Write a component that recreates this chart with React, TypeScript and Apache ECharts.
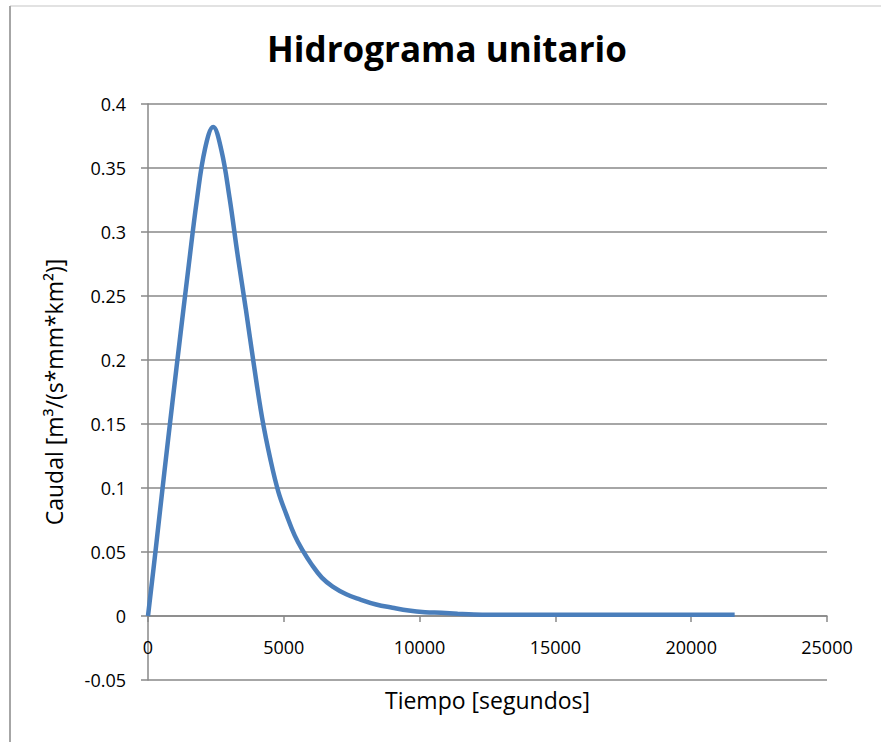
import React, { useEffect, useRef } from "react";
import * as echarts from "echarts";

const titleText = "Hidrograma unitario";
const xAxisName = "Tiempo [segundos]";
const yAxisName = "Caudal [m³/(s*mm*km²)]";

const timeSec = [
  0, 300, 600, 900, 1200, 1500, 1800, 2100, 2400, 2700, 3000, 3300, 3600, 3900,
  4200, 4500, 4800, 5100, 5400, 5700, 6000, 6400, 6800, 7300, 7800, 8400, 9000,
  9600, 10200, 10800, 11400, 12000, 12600, 13500, 15000, 16500, 18000, 19500,
  21000, 21600,
];
const flow = [
  0, 0.055, 0.112, 0.167, 0.221, 0.274, 0.325, 0.365, 0.382, 0.364, 0.327,
  0.282, 0.24, 0.196, 0.155, 0.123, 0.097, 0.079, 0.063, 0.051, 0.041, 0.03,
  0.023, 0.017, 0.013, 0.009, 0.0065, 0.0043, 0.003, 0.0025, 0.0018, 0.0012,
  0.001, 0.001, 0.001, 0.001, 0.001, 0.001, 0.001, 0.001,
];

const xTicks = { min: 0, max: 25000, interval: 5000 };
const yTicks = { min: -0.05, max: 0.4, interval: 0.05 };

const FONT = "'Open Sans', Lato, sans-serif";
const GRID_GRAY = "#888888";

export default function App() {
  const ref = useRef<HTMLDivElement>(null);

  useEffect(() => {
    document.body.style.margin = "0";
    if (!ref.current) return;
    const chart = echarts.init(ref.current, undefined, { renderer: "svg" });
    const data = timeSec.map((t, i) => [t, flow[i]]);
    chart.setOption({
      animation: false,
      backgroundColor: "#ffffff",
      textStyle: { fontFamily: FONT },
      grid: {
        left: 148,
        right: 54,
        top: 104,
        bottom: 62,
        containLabel: false,
        outerBoundsMode: "none",
      },
      graphic: [
        {
          type: "line",
          shape: { x1: 10, y1: 6, x2: 881, y2: 6 },
          style: { stroke: "#d9d9d9", lineWidth: 1.5 },
        },
        {
          type: "line",
          shape: { x1: 10, y1: 6, x2: 10, y2: 742 },
          style: { stroke: "#a6a6a6", lineWidth: 2 },
        },
        {
          type: "text",
          x: 447,
          y: 48,
          style: {
            text: titleText,
            font: `bold 35px ${FONT}`,
            fill: "#000000",
            textAlign: "center",
            textVerticalAlign: "middle",
          },
        },
      ],
      xAxis: {
        type: "value",
        min: xTicks.min,
        max: xTicks.max,
        interval: xTicks.interval,
        name: xAxisName,
        nameLocation: "middle",
        nameGap: 8,
        nameTextStyle: { fontSize: 23, color: "#000", fontFamily: FONT },
        axisLine: { onZero: true, lineStyle: { color: GRID_GRAY, width: 1.5 } },
        axisTick: { show: true, length: 6, lineStyle: { color: GRID_GRAY, width: 1.5 } },
        axisLabel: {
          margin: -42,
          fontSize: 18,
          color: "#000",
          fontFamily: FONT,
          formatter: (v: number) => String(v),
        },
        splitLine: { show: false },
      },
      yAxis: {
        type: "value",
        min: yTicks.min,
        max: yTicks.max,
        interval: yTicks.interval,
        name: yAxisName,
        nameLocation: "middle",
        nameGap: 83,
        nameTextStyle: { fontSize: 23, color: "#000", fontFamily: FONT },
        axisLine: { show: true, onZero: false, lineStyle: { color: GRID_GRAY, width: 1.5 } },
        axisTick: { show: true, length: 7, lineStyle: { color: GRID_GRAY, width: 1.5 } },
        axisLabel: {
          margin: 22,
          fontSize: 18,
          color: "#000",
          fontFamily: FONT,
          formatter: (v: number) => String(parseFloat(v.toFixed(2))),
        },
        splitLine: { show: true, lineStyle: { color: GRID_GRAY, width: 1.5 } },
      },
      series: [
        {
          type: "line",
          data,
          smooth: 0.4,
          showSymbol: false,
          symbol: "none",
          lineStyle: { color: "#4A7EBB", width: 4.5 },
          clip: false,
        },
      ],
    });
    return () => chart.dispose();
  }, []);

  return <div ref={ref} style={{ width: 881, height: 742 }} />;
}
